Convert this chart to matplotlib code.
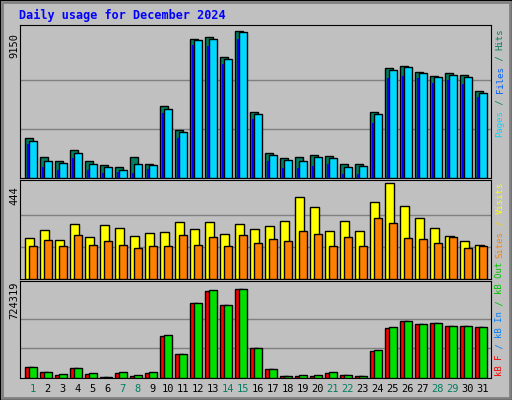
import matplotlib.pyplot as plt
from matplotlib.patches import Rectangle

days = list(range(1, 32))
weekend = [1, 7, 8, 14, 15, 21, 22, 28, 29]

hits = [2505, 1325, 1076, 1760, 1076, 828, 704, 1325, 890, 4492, 3002, 8653, 8777, 7535, 9150, 4120,
        1573, 1263, 1325, 1449, 1387, 890, 890, 4120, 6852, 6976, 6604, 6355, 6541, 6417, 5423]
files = [2318, 1076, 952, 1573, 890, 704, 518, 890, 828, 4306, 2877, 8591, 8653, 7411, 9088, 3995,
         1449, 1139, 1076, 1325, 1263, 704, 766, 3995, 6728, 6914, 6541, 6293, 6417, 6293, 5299]
pages = [2132, 704, 518, 1263, 518, 331, 393, 331, 580, 4057, 2505, 8280, 8218, 7100, 8653, 3685,
         1076, 642, 642, 766, 890, 269, 269, 3436, 6231, 6355, 6231, 5920, 6107, 5858, 5051]
visits = [189, 228, 180, 256, 194, 252, 237, 199, 213, 218, 266, 232, 266, 208, 256, 232,
          247, 271, 382, 333, 223, 271, 223, 357, 444, 338, 285, 237, 199, 175, 160]
sites = [155, 180, 151, 204, 160, 175, 160, 146, 155, 155, 204, 160, 194, 151, 204, 165,
         184, 175, 223, 208, 155, 194, 155, 281, 261, 189, 184, 165, 194, 146, 155]
kb_out = [92500, 52900, 29100, 84600, 37000, 10600, 44900, 21100, 44900, 346200, 195600, 607900,
          718900, 592000, 724319, 243200, 76600, 13200, 21100, 21100, 44900, 21100, 13200, 227300,
          417600, 465200, 441400, 449300, 425500, 425500, 417600]
kb_f = [92500, 52900, 26400, 84600, 34300, 10600, 42300, 18500, 42300, 338300, 195600, 607900,
        711000, 592000, 724319, 243200, 76600, 13200, 13200, 18500, 42300, 21100, 13200, 219400,
        409700, 465200, 441400, 449300, 425500, 425500, 417600]
kb_in = [2600] * 31

W, H = 512, 400
fig = plt.figure(figsize=(W / 100, H / 100), dpi=100, facecolor='white')
bg = '#c0c0c0'

# bingkai luar (di belakang axes)
fig.patches.append(Rectangle((0, 0), 1, 1, transform=fig.transFigure, facecolor=bg,
                             edgecolor='black', linewidth=1.5, zorder=-10))
fig.patches.append(Rectangle((2 / W, 2 / H), 1 - 4 / W, 1 - 4 / H, transform=fig.transFigure,
                             facecolor='none', edgecolor='#808080', linewidth=2, zorder=-9))

fig.text(19 / W, 1 - 15 / H, "Daily usage for December 2024", color='#0000ff',
         family='DejaVu Sans Mono', fontweight='bold', fontsize=8.5, va='center')


def panel(top, bottom):
    ax = fig.add_axes([20 / W, 1 - bottom / H, 471 / W, (bottom - top) / H])
    ax.set_facecolor(bg)
    ax.set_xlim(0, 31.4)
    ax.set_xticks([])
    ax.set_yticks([])
    for s in ax.spines.values():
        s.set_color('black')
    return ax


x = [d - 1 for d in days]
ek = dict(edgecolor='black', linewidth=1, align='edge', zorder=3)

# panel atas: hits / files / pages
ax1 = panel(25, 178)
ax1.set_ylim(0, 9150 * 1.04)
for g in (9150 / 3, 9150 * 2 / 3):
    ax1.axhline(g, color='#808080', lw=1, zorder=1)
ax1.bar([v + 0.35 for v in x], hits, 0.5, color='#008060', **ek)
ax1.bar([v + 0.47 for v in x], pages, 0.12, color='#0000ff', align='edge', zorder=4, linewidth=0)
ax1.bar([v + 0.6 for v in x], files, 0.5, color='#00d8ff', **ek)

# panel tengah: visits / sites
ax2 = panel(180, 279)
ax2.set_ylim(0, 444 * 1.035)
for g in (444 / 3, 444 * 2 / 3):
    ax2.axhline(g, color='#808080', lw=1, zorder=1)
ax2.bar([v + 0.35 for v in x], visits, 0.55, color='#ffff00', **ek)
ax2.bar([v + 0.6 for v in x], sites, 0.5, color='#ff8000', **ek)

# panel bawah: kB
ax3 = panel(281, 378)
ax3.set_ylim(0, 724319 * 1.09)
for g in (724319 / 3, 724319 * 2 / 3):
    ax3.axhline(g, color='#808080', lw=1, zorder=1)
ax3.bar([v + 0.35 for v in x], kb_f, 0.5, color='#ff0000', **ek)
ax3.bar([v + 0.6 for v in x], kb_out, 0.5, color='#00e000', **ek)
ax3.bar([v + 0.42 for v in x], kb_in, 0.1, color='black', align='edge', zorder=4, linewidth=0)

# label hari
for d in days:
    fig.text((20 + (d - 1 + 0.85) * 15) / W, 1 - 389 / H, str(d), ha='center', va='center',
             family='DejaVu Sans Mono', fontsize=7.5,
             color='#008060' if d in weekend else 'black')

# label maksimum kiri
for txt, yc in [("9150", 45), ("444", 196), ("724319", 300)]:
    fig.text(14 / W, 1 - yc / H, txt, rotation=90, ha='center', va='center',
             family='DejaVu Sans Mono', fontsize=7.5)


def side_label(parts, ybottom):
    y = ybottom
    for txt, col in parts:
        fig.text(500 / W, 1 - y / H, txt, rotation=90, ha='center', va='bottom',
                 family='DejaVu Sans Mono', fontsize=6.5, color=col)
        y -= len(txt) * 5.44


side_label([("Pages", '#00d8ff'), (" / ", '#008060'), ("Files", '#0060ff'),
            (" / ", '#008060'), ("Hits", '#008060')], 137)
side_label([("Sites", '#ff8000'), (" / ", '#ffd000'), ("Visits", '#ffff00')], 258)
side_label([("kB F", '#ff0000'), (" / ", '#0080ff'), ("kB In", '#0080ff'),
            (" / ", '#00c000'), ("kB Out", '#00c000')], 376)

fig.savefig('out.png', dpi=100, facecolor='white')
